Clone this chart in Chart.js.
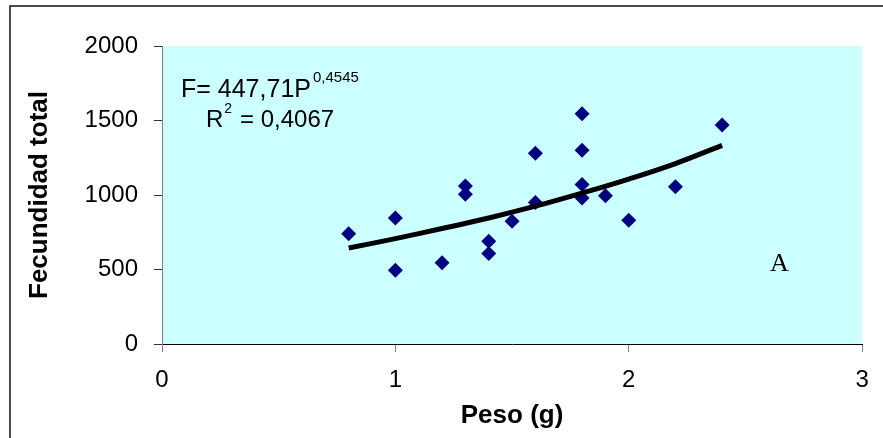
<!DOCTYPE html>
<html>
<head>
<meta charset="utf-8">
<script src="https://cdn.jsdelivr.net/npm/chart.js@4"></script>
<style>
  body { margin: 0; background: #fff; }
</style>
</head>
<body>
<canvas id="fecChart" width="883" height="438"></canvas>
<script>
// observed fish: weight (g) and total fecundity
const peso = [0.8, 1.0, 1.0, 1.2, 1.3, 1.3, 1.4, 1.4, 1.5, 1.6, 1.6, 1.8, 1.8, 1.8, 1.8, 1.9, 2.0, 2.2, 2.4];
const fecundidad = [740, 845, 495, 545, 1060, 1005, 690, 607, 824, 1280, 950, 1545, 1300, 1070, 980, 995, 830, 1055, 1470];

// trend curve
const trendPeso = [0.8, 1.0, 1.2, 1.4, 1.6, 1.8, 2.0, 2.2, 2.4];
const trendFec = [644, 707, 775, 846, 925, 1013, 1107, 1211, 1333];

const xTicks = [0, 1, 2, 3];
const yTicks = [0, 500, 1000, 1500, 2000];

const FONT = '"Liberation Sans", Arial, sans-serif';

const decor = {
    id: 'decor',
    beforeDraw(chart) {
        const c = chart.ctx;
        const a = chart.chartArea;
        c.save();
        c.fillStyle = '#fff';
        c.fillRect(0, 0, chart.width, chart.height);
        // outer frame
        c.strokeStyle = '#111';
        c.lineWidth = 1.5;
        c.strokeRect(10, 6, 1000, 1000);
        // plot background
        c.fillStyle = '#CCFFFF';
        c.fillRect(a.left, a.top, a.right - a.left, a.bottom - a.top);
        c.restore();
    },
    afterDraw(chart) {
        const c = chart.ctx;
        const a = chart.chartArea;
        c.save();
        c.fillStyle = '#000';
        c.textBaseline = 'alphabetic';
        c.textAlign = 'left';
        // equation
        c.font = '25px ' + FONT;
        const line1 = 'F= 447,71P';
        c.fillText(line1, a.left + 19, a.top + 50.7);
        const w1 = c.measureText(line1).width;
        c.font = '15px ' + FONT;
        c.fillText('0,4545', a.left + 19 + w1 + 2, a.top + 35.7);
        c.font = '24px ' + FONT;
        c.fillText('R', a.left + 44, a.top + 81.3);
        const wr = c.measureText('R').width;
        c.font = '14px ' + FONT;
        c.fillText('2', a.left + 44 + wr + 1, a.top + 67.3);
        c.font = '24px ' + FONT;
        c.fillText('= 0,4067', a.left + 78, a.top + 81.3);
        // panel letter
        c.font = '26px "Liberation Serif", "Times New Roman", serif';
        c.fillText('A', a.left + 608, a.top + 225);
        c.restore();
    }
};

const ctx = document.getElementById('fecChart').getContext('2d');

const fecChart = new Chart(ctx, {
    type: 'scatter',
    data: {
        datasets: [{
            label: 'Fecundidad',
            data: peso.map((p, i) => ({ x: p, y: fecundidad[i] })),
            pointStyle: 'rectRot',
            pointRadius: 7.5,
            backgroundColor: '#000080',
            borderColor: '#000080',
            borderWidth: 0,
            order: 1
        }, {
            type: 'line',
            label: 'Tendencia',
            data: trendPeso.map((p, i) => ({ x: p, y: trendFec[i] })),
            borderColor: '#000',
            borderWidth: 5,
            borderCapStyle: 'butt',
            pointRadius: 0,
            tension: 0.4,
            fill: false,
            order: 0
        }]
    },
    options: {
        responsive: false,
        animation: false,
        events: [],
        layout: { padding: { left: 12, right: 20, top: 46, bottom: 0 } },
        plugins: {
            legend: { display: false },
            tooltip: { enabled: false }
        },
        scales: {
            x: {
                type: 'linear',
                min: 0,
                max: 3,
                afterBuildTicks: s => { s.ticks = xTicks.map(v => ({ value: v })); },
                afterFit: s => { s.height = 94; },
                ticks: { color: '#000', font: { family: FONT, size: 24 }, padding: 14.2, maxRotation: 0, callback: v => String(v) },
                grid: { drawOnChartArea: false, drawTicks: true, tickLength: 8, tickColor: '#808080' },
                border: { color: '#000', width: 1 },
                title: {
                    display: true,
                    text: 'Peso (g)',
                    color: '#000',
                    font: { family: FONT, size: 26, weight: 'bold' },
                    padding: { top: 0, bottom: 6.4 }
                }
            },
            y: {
                min: 0,
                max: 2000,
                afterBuildTicks: s => { s.ticks = yTicks.map(v => ({ value: v })); },
                afterFit: s => { s.width = 150; },
                ticks: { color: '#000', font: { family: FONT, size: 24 }, padding: 16, callback: v => String(v) },
                grid: { drawOnChartArea: false, drawTicks: true, tickLength: 8, tickColor: '#333' },
                border: { color: '#808080', width: 1 },
                title: {
                    display: true,
                    text: 'Fecundidad total',
                    color: '#000',
                    font: { family: FONT, size: 26, weight: 'bold' },
                    padding: { top: 12.4, bottom: 0 }
                }
            }
        }
    },
    plugins: [decor]
});
</script>
</body>
</html>
